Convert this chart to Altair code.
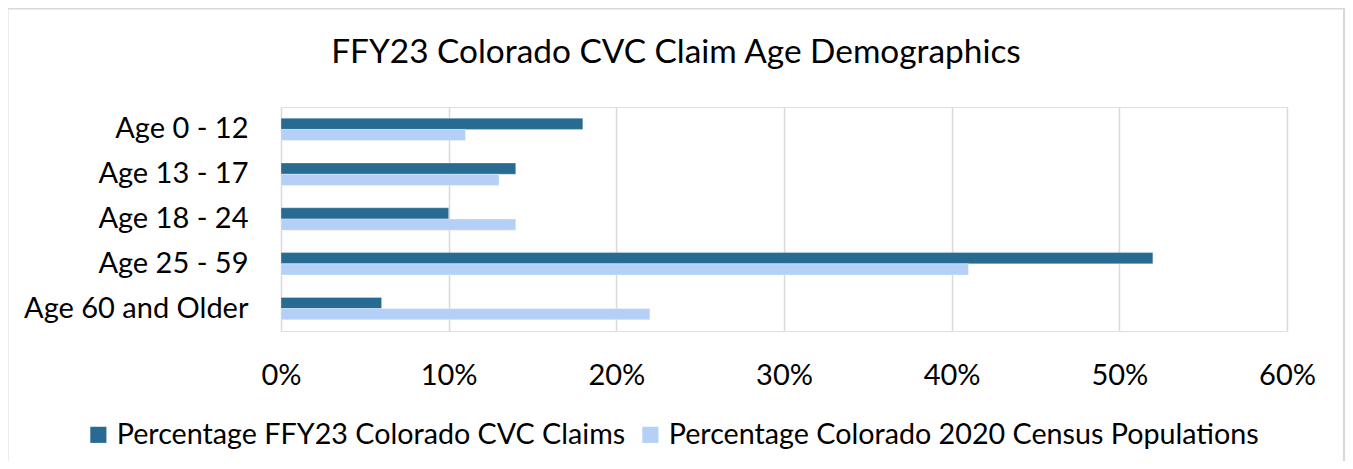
import altair as alt
import pandas as pd

categories = ["Age 0 - 12", "Age 13 - 17", "Age 18 - 24", "Age 25 - 59", "Age 60 and Older"]
series_names = ["Percentage FFY23 Colorado CVC Claims", "Percentage Colorado 2020 Census Populations"]
cvc_claims = [0.18, 0.14, 0.10, 0.52, 0.06]
census_pop = [0.11, 0.13, 0.14, 0.41, 0.22]
colors = ["#276A92", "#B4D0F7"]
x_ticks = [0, 0.1, 0.2, 0.3, 0.4, 0.5, 0.6]

rows = []
for c, a, b in zip(categories, cvc_claims, census_pop):
    rows.append({"category": c, "series": series_names[0], "value": a})
    rows.append({"category": c, "series": series_names[1], "value": b})
df = pd.DataFrame(rows)

FONT = "Lato"

border = alt.Chart(pd.DataFrame({"k": [0]})).mark_rect(
    fill=None, stroke="#D9D9D9", strokeWidth=2
).encode(
    x=alt.value(-273.5), x2=alt.value(1063),
    y=alt.value(-98.5), y2=alt.value(400)
)

bars = alt.Chart(df).mark_bar(stroke="white", strokeWidth=0.5, strokeOpacity=0.6).encode(
    y=alt.Y("category:N", sort=categories, title=None,
            scale=alt.Scale(paddingInner=0.5, paddingOuter=0.25),
            axis=alt.Axis(domain=False, ticks=False, labelFontSize=29, labelFont=FONT,
                          labelColor="#000000", labelPadding=33, labelLimit=400)),
    yOffset=alt.YOffset("series:N", sort=series_names),
    x=alt.X("value:Q", title=None,
            scale=alt.Scale(domain=[0, 0.6], nice=False),
            axis=alt.Axis(format=".0%", values=x_ticks, domain=False, ticks=False,
                          labelFlush=False,
                          labelFontSize=29, labelFont=FONT, labelColor="#000000",
                          labelPadding=30, gridColor="#D9D9D9", gridWidth=1.5)),
    color=alt.Color("series:N", sort=series_names,
                    scale=alt.Scale(domain=series_names, range=colors),
                    legend=alt.Legend(title=None, orient="none", direction="horizontal",
                                      legendX=-197, legendY=313, symbolType="square",
                                      symbolSize=260, symbolStrokeWidth=0,
                                      labelFontSize=28.7, labelFont=FONT, labelColor="#000000",
                                      labelLimit=800, columnPadding=10, labelOffset=4)),
)

chart = alt.layer(border, bars).properties(
    width=1006, height=224,
    autosize=alt.AutoSizeParams(type="none"),
    padding={"left": 273, "top": 99, "right": 58, "bottom": 130},
    title=alt.TitleParams("FFY23 Colorado CVC Claim Age Demographics", fontSize=33.4,
                          font=FONT, fontWeight="normal", color="#000000",
                          anchor="middle", dx=-108, offset=-63),
).configure_view(stroke=None).configure(background="white")

chart.save("out.html", embed_options={"renderer": "svg", "actions": False})
